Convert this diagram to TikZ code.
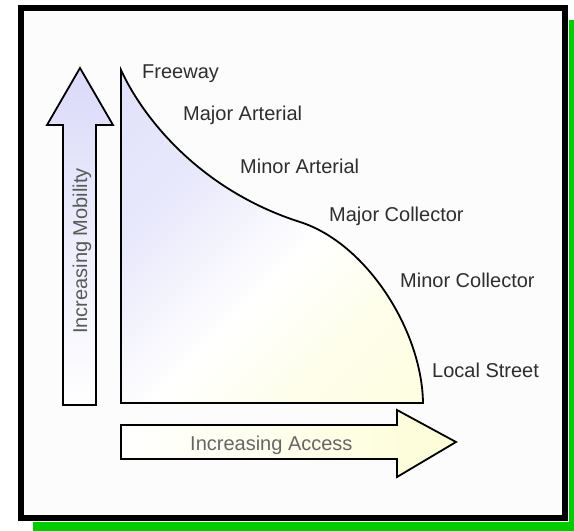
\documentclass[tikz,border=0pt]{standalone}
\usepackage{fontspec}
\setmainfont{Liberation Sans}
\definecolor{lav}{RGB}{218,218,250}
\definecolor{yel}{RGB}{253,253,215}
\definecolor{grn}{RGB}{0,204,0}
\pgfdeclarehorizontalshading{curvesh}{100bp}{color(0bp)=(lav); color(35bp)=(lav!60!white); color(55bp)=(white); color(70bp)=(yel!50!white); color(100bp)=(yel)}
\begin{document}
\begin{tikzpicture}[x=1pt,y=-1pt,
  lbl/.style={anchor=base west,inner sep=0pt,text=black!82,font=\fontsize{20}{24}\selectfont},
  shp/.style={draw=black,line width=1.8pt,line join=miter}]
\useasboundingbox (0,0) rectangle (574,531);
\fill[white] (0,0) rectangle (574,531);
% green shadow
\fill[grn] (569,20) rectangle (574,531);
\fill[grn] (33,522) rectangle (574,531);
% frame
\draw[line width=6pt,fill=white!99!black] (21,8) rectangle (565,518);
% curve area
\shade[shading=curvesh,shading angle=-45]
  (121,403) -- (121,70) .. controls (143,118) and (200,190) .. (300,222) .. controls (366,243) and (422,330) .. (423,403) -- cycle;
\draw[shp] (121,403) -- (121,70) .. controls (143,118) and (200,190) .. (300,222) .. controls (366,243) and (422,330) .. (423,403) -- cycle;
% up arrow
\shade[top color=lav,bottom color=white]
  (63,405) -- (63,125) -- (47,125) -- (80,68) -- (113,125) -- (96,125) -- (96,405) -- cycle;
\draw[shp] (63,405) -- (63,125) -- (47,125) -- (80,68) -- (113,125) -- (96,125) -- (96,405) -- cycle;
% right arrow
\shade[left color=white,right color=yel]
  (121,425) -- (397,425) -- (397,410) -- (456,442) -- (397,477) -- (397,459) -- (121,459) -- cycle;
\draw[shp] (121,425) -- (397,425) -- (397,410) -- (456,442) -- (397,477) -- (397,459) -- (121,459) -- cycle;
% labels
\node[lbl] (fw) at (142,78) {Freeway};
\node[lbl] (maa) at (183,120) {Major Arterial};
\node[lbl] (mia) at (240,173) {Minor Arterial};
\node[lbl] (mac) at (329,221) {Major Collector};
\node[lbl] (mic) at (400,287) {Minor Collector};
\node[lbl] (ls) at (432,377) {Local Street};
\node[lbl,text=black!60] (acc) at (190,450) {Increasing Access};
\node[inner sep=0pt,text=black!65,rotate=90,font=\fontsize{20}{24}\selectfont] (mob) at (82,251) {Increasing Mobility};
\end{tikzpicture}
\end{document}
